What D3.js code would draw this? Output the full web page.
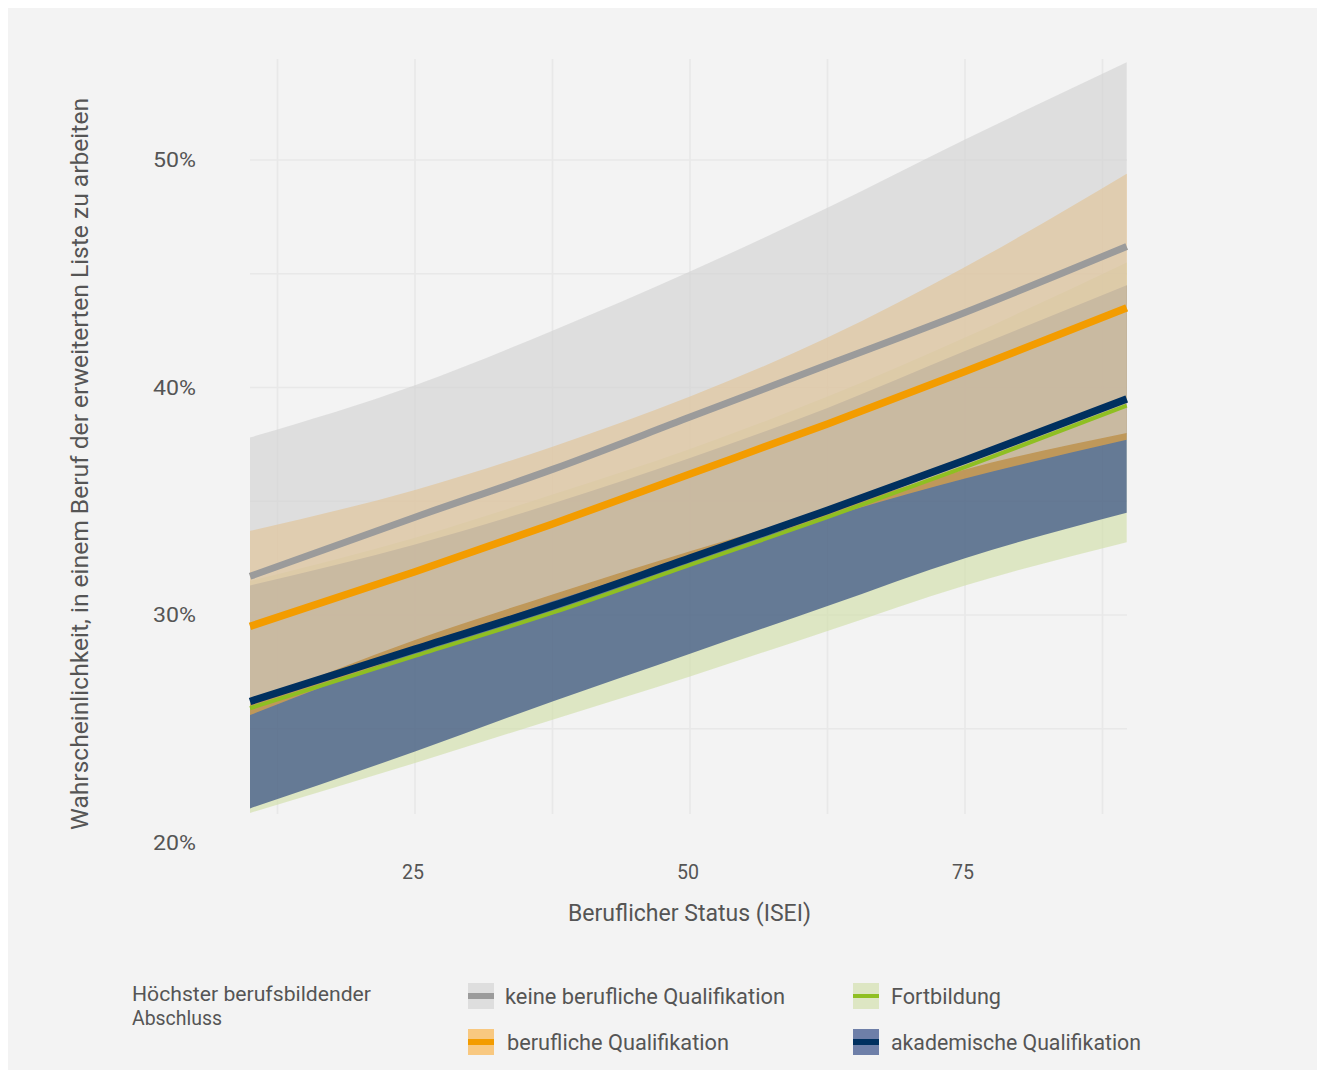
<!DOCTYPE html>
<html lang="de">
<head>
<meta charset="utf-8">
<script src="https://cdn.jsdelivr.net/npm/d3@7"></script>
<style>
  html, body { margin: 0; padding: 0; background: #ffffff; }
  svg { display: block; }
  text { font-family: "Roboto", "Noto Sans", "DejaVu Sans", sans-serif; fill: #555555; }
</style>
</head>
<body>
<svg id="chart" width="1317" height="1077"></svg>
<script>
// ISEI positions at which the predicted probabilities are given
const isei = [10, 25, 37.5, 50, 62.5, 75, 89.7];

// predicted probability (%) and 95% interval per highest vocational qualification
const keineFit  = [31.7, 34.3, 36.4, 38.7, 41.0, 43.3, 46.2];
const keineLo   = [26.1, 28.9, 30.9, 32.8, 34.6, 36.4, 38.0];
const keineHi   = [37.8, 40.1, 42.5, 45.1, 47.9, 50.9, 54.3];

const berufFit  = [29.5, 31.9, 34.0, 36.2, 38.4, 40.7, 43.5];
const berufLo   = [25.6, 28.4, 30.6, 32.5, 34.3, 36.0, 37.7];
const berufHi   = [33.7, 35.5, 37.4, 39.6, 42.2, 45.3, 49.4];

const fortFit   = [25.9, 28.2, 30.1, 32.2, 34.3, 36.5, 39.2];
const fortLo    = [21.3, 23.5, 25.4, 27.3, 29.3, 31.3, 33.2];
const fortHi    = [31.5, 33.4, 35.3, 37.3, 39.6, 42.2, 45.5];

const akadFit   = [26.2, 28.5, 30.4, 32.5, 34.6, 36.8, 39.5];
const akadLo    = [21.5, 24.0, 26.2, 28.3, 30.4, 32.5, 34.5];
const akadHi    = [31.3, 33.1, 34.9, 36.9, 39.1, 41.6, 44.5];

const groupNames = ["keine berufliche Qualifikation", "berufliche Qualifikation", "Fortbildung", "akademische Qualifikation"];
const xTicks = [25, 50, 75];
const xGrid = [12.5, 25, 37.5, 50, 62.5, 75, 87.5];
const yTicks = [20, 30, 40, 50];
const yGrid = [25, 30, 35, 40, 45, 50];

const groups = [
  { name: groupNames[0], fit: keineFit, lo: keineLo, hi: keineHi, fill: "#d0d0d0", line: "#9b9b9b", width: 7 },
  { name: groupNames[1], fit: berufFit, lo: berufLo, hi: berufHi, fill: "#fbab33", line: "#f39c00", width: 7.5 },
  { name: groupNames[2], fit: fortFit,  lo: fortLo,  hi: fortHi,  fill: "#cedda3", line: "#8fbf22", width: 4 },
  { name: groupNames[3], fit: akadFit,  lo: akadLo,  hi: akadHi,  fill: "#163277", line: "#00305f", width: 7.5 }
];
const ribbonAlpha = 0.6;

const svg = d3.select("#chart");

// panel background
svg.append("rect").attr("x", 8).attr("y", 8).attr("width", 1309).attr("height", 1062).attr("fill", "#f3f3f3");

const x = d3.scaleLinear().domain([10, 90]).range([250, 1130]);
const y = d3.scaleLinear().domain([20, 50]).range([842.5, 160]);
const plotLeft = 250, plotRight = 1127, plotTop = 59, plotBottom = 814;

// grid
const grid = svg.append("g");
grid.selectAll("line.v").data(xGrid).join("line")
  .attr("x1", d => x(d)).attr("x2", d => x(d))
  .attr("y1", plotTop).attr("y2", plotBottom)
  .attr("stroke", "#e8e8e8").attr("stroke-width", 1.6);
grid.selectAll("line.h").data(yGrid).join("line")
  .attr("x1", plotLeft).attr("x2", plotRight)
  .attr("y1", d => y(d)).attr("y2", d => y(d))
  .attr("stroke", "#e8e8e8").attr("stroke-width", 1.6);

const curve = d3.curveMonotoneX;
const area = d3.area().x((d, i) => x(isei[i])).y0(d => y(d[0])).y1(d => y(d[1])).curve(curve);
const line = d3.line().x((d, i) => x(isei[i])).y(d => y(d)).curve(curve);

// ribbons: drawn back to front
const ribbonOrder = [2, 3, 1, 0];
const ribbons = svg.append("g");
ribbonOrder.forEach(k => {
  const g = groups[k];
  ribbons.append("path")
    .datum(g.lo.map((v, i) => [v, g.hi[i]]))
    .attr("d", area)
    .attr("fill", g.fill)
    .attr("fill-opacity", ribbonAlpha);
});

// fitted lines
const lines = svg.append("g");
[0, 1, 2, 3].forEach(k => {
  const g = groups[k];
  lines.append("path")
    .datum(g.fit)
    .attr("d", line)
    .attr("fill", "none")
    .attr("stroke", g.line)
    .attr("stroke-width", g.width);
});

// helper: text squeezed to a given width, giving a condensed face
function label(sel, str, len) {
  return sel.text(str).attr("textLength", len).attr("lengthAdjust", "spacingAndGlyphs");
}

// y axis labels
svg.append("g").selectAll("text").data(yTicks).join("text")
  .attr("x", 196).attr("y", d => y(d))
  .attr("text-anchor", "end").attr("dominant-baseline", "central")
  .attr("font-size", 21)
  .each(function(d) { label(d3.select(this), d + "%", 43); });

// x axis labels
svg.append("g").selectAll("text").data(xTicks).join("text")
  .attr("x", d => x(d) - 2).attr("y", 872)
  .attr("text-anchor", "middle").attr("dominant-baseline", "central")
  .attr("font-size", 21)
  .each(function(d) { label(d3.select(this), String(d), 22); });

// axis titles
label(svg.append("text")
  .attr("transform", "translate(80,464) rotate(-90)")
  .attr("text-anchor", "middle").attr("dominant-baseline", "central")
  .attr("font-size", 24),
  "Wahrscheinlichkeit, in einem Beruf der erweiterten Liste zu arbeiten", 732);

label(svg.append("text")
  .attr("x", 689.5).attr("y", 913)
  .attr("text-anchor", "middle").attr("dominant-baseline", "central")
  .attr("font-size", 23),
  "Beruflicher Status (ISEI)", 243);

// legend
const legend = svg.append("g");
label(legend.append("text").attr("x", 132).attr("y", 1001).attr("font-size", 21), "Höchster berufsbildender", 239);
label(legend.append("text").attr("x", 132).attr("y", 1025).attr("font-size", 21), "Abschluss", 90);

const legendPos = [
  { gx: 468, gy: 983, tx: 505, w: 280 },
  { gx: 468, gy: 1029, tx: 507, w: 222 },
  { gx: 853, gy: 983, tx: 891, w: 110 },
  { gx: 853, gy: 1029, tx: 891, w: 250 }
];
groups.forEach((g, k) => {
  const p = legendPos[k];
  legend.append("rect").attr("x", p.gx).attr("y", p.gy).attr("width", 26).attr("height", 26)
    .attr("fill", "#f3f3f3");
  legend.append("rect").attr("x", p.gx).attr("y", p.gy).attr("width", 26).attr("height", 26)
    .attr("fill", g.fill).attr("fill-opacity", ribbonAlpha);
  legend.append("line").attr("x1", p.gx).attr("x2", p.gx + 26)
    .attr("y1", p.gy + 13).attr("y2", p.gy + 13)
    .attr("stroke", g.line).attr("stroke-width", Math.min(g.width, 6));
  label(legend.append("text").attr("x", p.tx).attr("y", p.gy + 13)
    .attr("dominant-baseline", "central").attr("font-size", 22), g.name, p.w);
});
</script>
</body>
</html>
